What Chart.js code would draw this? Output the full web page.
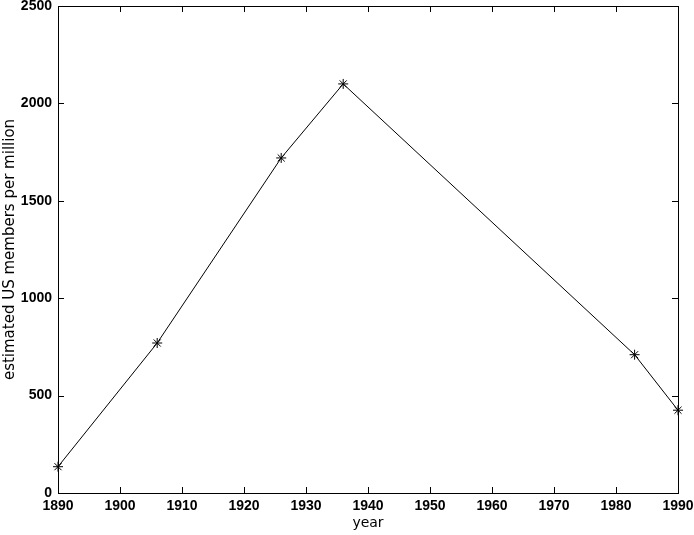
<!DOCTYPE html>
<html>
<head>
<meta charset="utf-8">
<script src="https://cdn.jsdelivr.net/npm/chart.js@4"></script>
<style>
    body { margin: 0; background: #fff; }
    #wrap { width: 694px; height: 535px; }
</style>
</head>
<body>
<div id="wrap"><canvas id="membersChart"></canvas></div>
<script>
const years = [1890, 1906, 1926, 1936, 1983, 1990];
const members = [135, 770, 1720, 2100, 710, 425];
const xTicks = [1890, 1900, 1910, 1920, 1930, 1940, 1950, 1960, 1970, 1980, 1990];
const yTicks = [0, 500, 1000, 1500, 2000, 2500];

// box around the plot with ticks pointing inward on all four sides
const boxTicks = {
    id: 'boxTicks',
    afterDraw(chart) {
        const ctx = chart.ctx;
        const a = chart.chartArea;
        const x = chart.scales.x;
        const y = chart.scales.y;
        const len = 6;
        ctx.save();
        ctx.strokeStyle = '#000';
        ctx.lineWidth = 1;
        ctx.strokeRect(Math.round(a.left) + 0.5, Math.round(a.top) + 0.5,
            Math.round(a.right - a.left), Math.round(a.bottom - a.top));
        ctx.beginPath();
        xTicks.forEach(v => {
            const px = Math.round(x.getPixelForValue(v)) + 0.5;
            ctx.moveTo(px, a.bottom);
            ctx.lineTo(px, a.bottom - len);
            ctx.moveTo(px, a.top);
            ctx.lineTo(px, a.top + len);
        });
        yTicks.forEach(v => {
            const py = Math.round(y.getPixelForValue(v)) + 0.5;
            ctx.moveTo(a.left, py);
            ctx.lineTo(a.left + len, py);
            ctx.moveTo(a.right, py);
            ctx.lineTo(a.right - len, py);
        });
        ctx.stroke();
        ctx.restore();
    }
};

const tickFont = { family: 'Liberation Sans', size: 14, weight: 'bold' };

new Chart(document.getElementById('membersChart'), {
    type: 'line',
    data: {
        datasets: [{
            data: years.map((yr, i) => ({ x: yr, y: members[i] })),
            borderColor: '#000',
            borderWidth: 1,
            backgroundColor: '#000',
            pointStyle: 'star',
            pointRadius: 5,
            pointBorderWidth: 1,
            pointBorderColor: '#000',
            tension: 0,
            fill: false,
            clip: false
        }]
    },
    options: {
        responsive: true,
        maintainAspectRatio: false,
        animation: false,
        layout: { padding: { top: 5, right: 16, left: 0, bottom: 0 } },
        plugins: {
            legend: { display: false },
            tooltip: { enabled: false }
        },
        scales: {
            x: {
                type: 'linear',
                min: 1890,
                max: 1990,
                afterBuildTicks: scale => { scale.ticks = xTicks.map(v => ({ value: v })); },
                afterFit: scale => {
                    scale.height = 42;
                    scale.paddingLeft = 0;
                    scale.paddingRight = 0;
                },
                grid: { display: false, drawTicks: false },
                border: { display: false },
                ticks: { color: '#000', font: tickFont, padding: 5, maxRotation: 0, callback: v => String(v) },
                title: { display: true, text: 'year', color: '#000', font: { family: 'DejaVu Sans', size: 14 }, padding: { top: 0, bottom: 3 } }
            },
            y: {
                min: 0,
                max: 2500,
                afterBuildTicks: scale => { scale.ticks = yTicks.map(v => ({ value: v })); },
                afterFit: scale => {
                    scale.width = 58;
                    scale.paddingTop = 0;
                    scale.paddingBottom = 0;
                },
                grid: { display: false, drawTicks: false },
                border: { display: false },
                ticks: { color: '#000', font: tickFont, padding: 6, callback: v => String(v) },
                title: { display: true, text: 'estimated US members per million', color: '#000', font: { family: 'DejaVu Sans', size: 15 }, padding: { top: 1, bottom: 0 } }
            }
        }
    },
    plugins: [boxTicks]
});
</script>
</body>
</html>
